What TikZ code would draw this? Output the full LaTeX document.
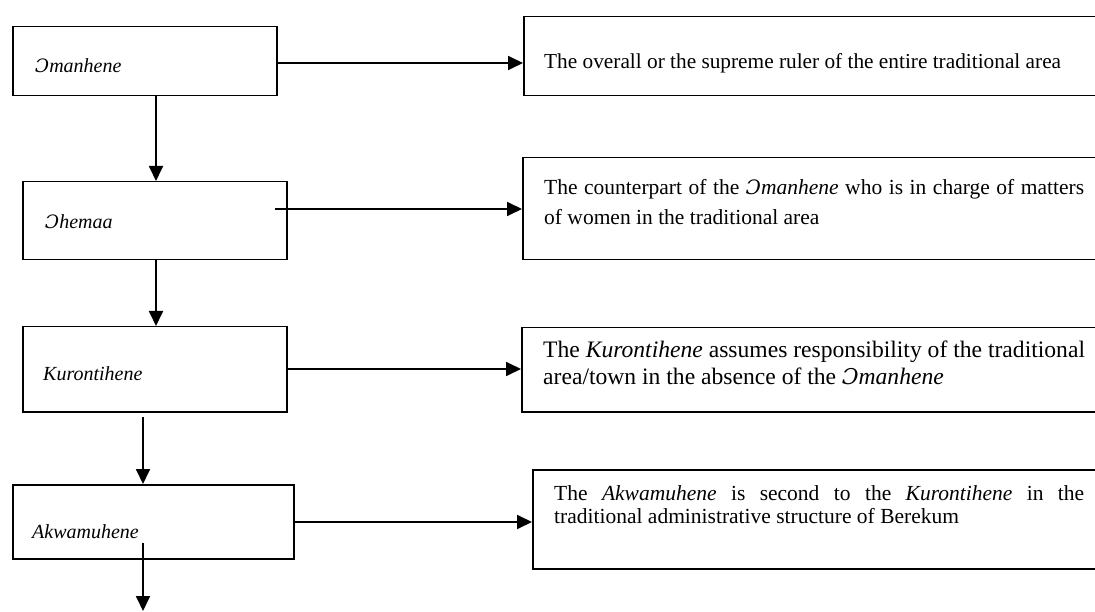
\documentclass[tikz,border=0pt]{standalone}
\usepackage{fontspec}
\setmainfont{Liberation Serif}
\newfontfamily\ocfont[Scale=0.92]{DejaVu Serif}
\usetikzlibrary{arrows.meta}
\newcommand\OpenO{{\ocfont\itshape Ɔ}}
\begin{document}
\begin{tikzpicture}[x=1pt,y=-1pt,
  box/.style={draw, line width=1.5pt, inner sep=0pt, anchor=north west},
  lbl/.style={anchor=base west, inner sep=0pt, font=\fontsize{20}{24}\selectfont\itshape},
  desc/.style={anchor=base west, inner sep=0pt, align=left},
  arr/.style={line width=1.8pt, -{Triangle[length=15pt,width=14pt]}}]
\useasboundingbox (0,0) rectangle (1095,612);
\clip (0,0) rectangle (1095,612);
% left boxes
\node[box, minimum width=264pt, minimum height=69pt] (b1) at (12,26) {};
\node[box, minimum width=264pt, minimum height=78pt] (b2) at (22,181) {};
\node[box, minimum width=264pt, minimum height=85pt] (b3) at (22,326) {};
\node[box, minimum width=281pt, minimum height=74pt] (b4) at (12,484) {};
% description boxes
\node[box, minimum width=600pt, minimum height=79pt] (d1) at (523,16) {};
\node[box, minimum width=600pt, minimum height=102pt] (d2) at (522,157) {};
\node[box, minimum width=600pt, minimum height=84pt] (d3) at (521,327) {};
\node[box, minimum width=600pt, minimum height=99pt] (d4) at (532,469) {};
% labels
\node[lbl] (l1) at (35,73) {\OpenO manhene};
\node[lbl] (l2) at (45,229) {\OpenO hemaa};
\node[lbl] (l3) at (43,380) {Kurontihene};
\node[lbl] (l4) at (32,538) {Akwamuhene};
% descriptions
\node[desc, font=\fontsize{21.3}{26}\selectfont] (t1) at (544,69)
  {The overall or the supreme ruler of the entire traditional area};
\node[desc, font=\fontsize{21.5}{30}\selectfont] (t2) at (544,225)
  {\makebox[540pt][s]{The counterpart of the \textit{\OpenO manhene} who is in charge of matters}\\
   of women in the traditional area};
\node[desc, font=\fontsize{23.6}{27}\selectfont] (t3) at (543,384)
  {The \textit{Kurontihene} assumes responsibility of the traditional\\
   area/town in the absence of the \textit{\OpenO manhene}};
\node[desc, font=\fontsize{21.5}{23}\selectfont] (t4) at (554,523)
  {\makebox[530pt][s]{The \textit{Akwamuhene} is second to the \textit{Kurontihene} in the}\\
   traditional administrative structure of Berekum};
% connectors
\coordinate (s2) at (275,209);
\coordinate (s3) at (143,417);
\coordinate (s4) at (143,543);
\coordinate (e4) at (143,611);
\draw[arr] (b1.east |- 0,63) -- (d1.west |- 0,63);
\draw[arr] (b1.south -| 156,0) -- (b2.north -| 156,0);
\draw[arr] (s2) -- (d2.west |- s2);
\draw[arr] (b2.south -| 156,0) -- (b3.north -| 156,0);
\draw[arr] (b3.east |- 0,369) -- (d3.west |- 0,369);
\draw[arr] (s3) -- (b4.north -| s3);
\draw[arr] (b4.east |- 0,522) -- (d4.west |- 0,522);
\draw[arr] (s4) -- (e4);
\end{tikzpicture}
\end{document}
